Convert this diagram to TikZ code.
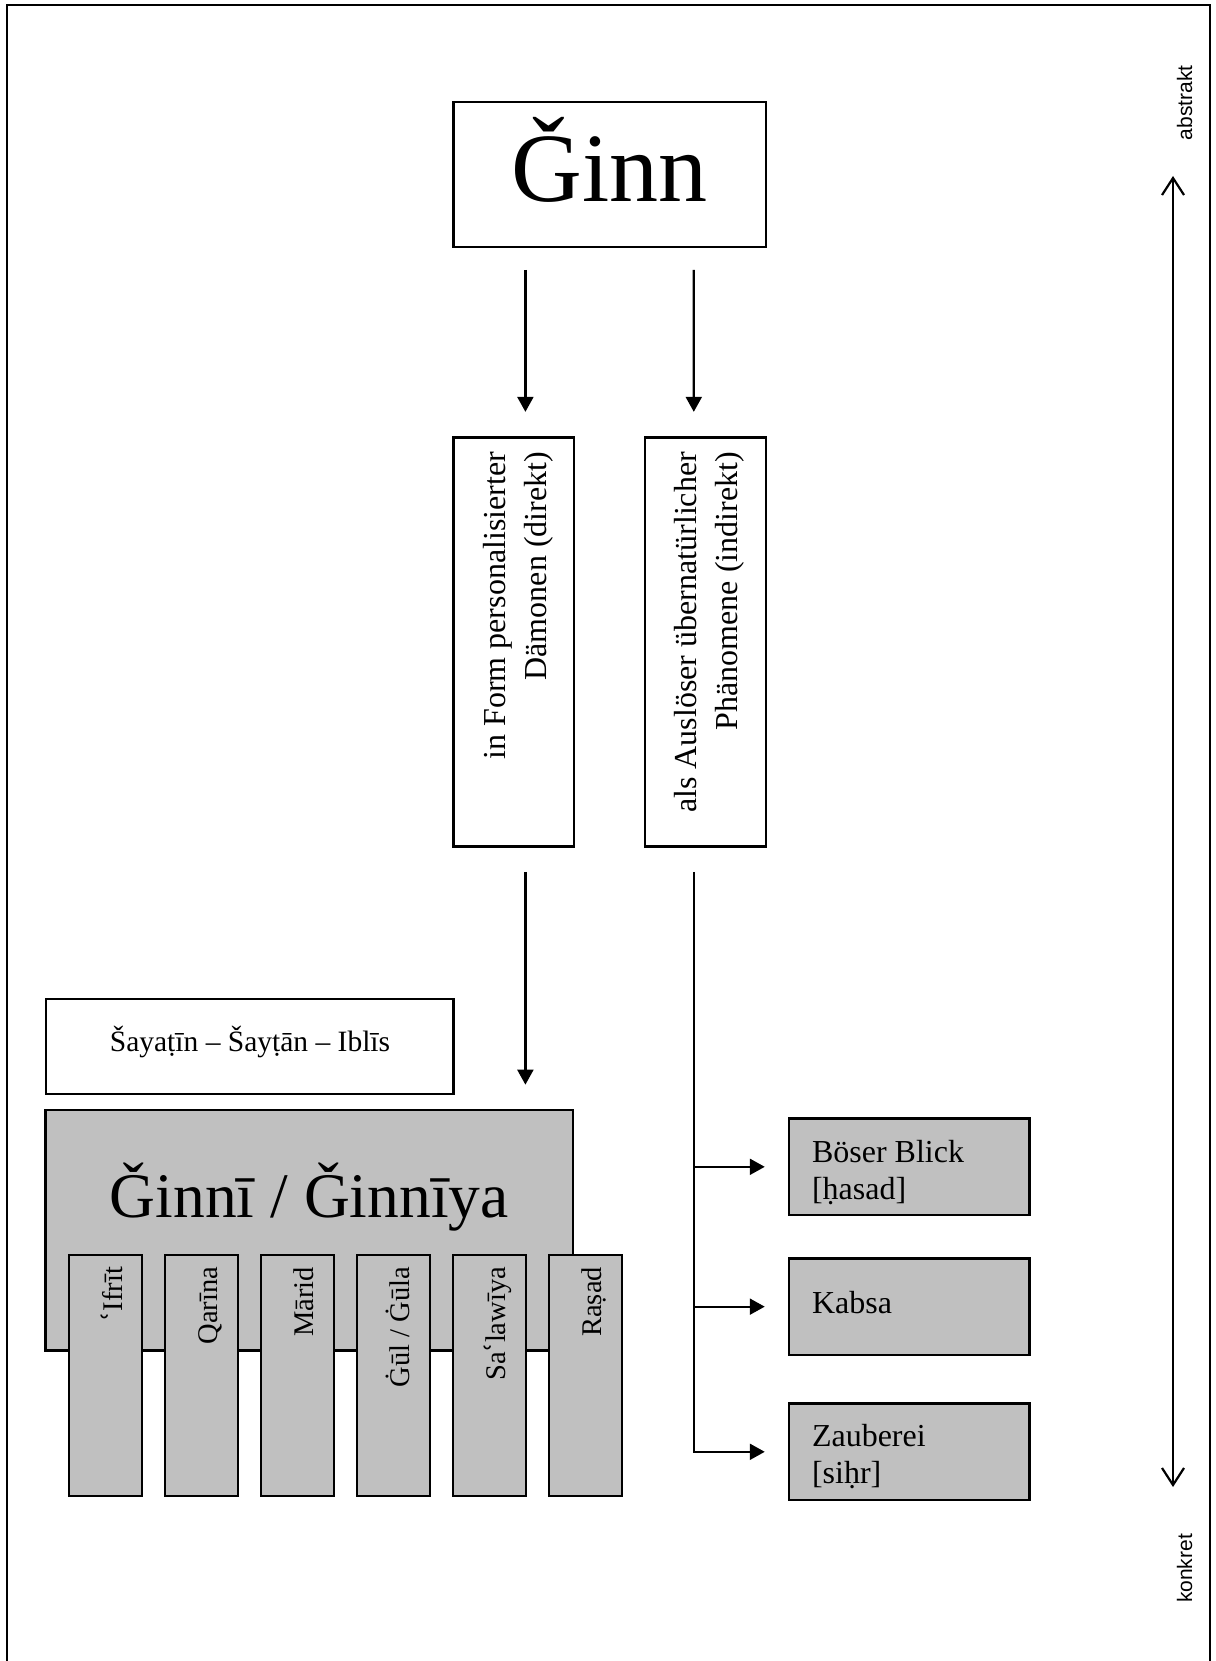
\documentclass[tikz,border=0pt]{standalone}
\usepackage{fontspec}
\setmainfont{Liberation Serif}
\newfontfamily\axisfont{Liberation Sans}
\newfontfamily\ringfont{DejaVu Serif}
\newcommand{\ayn}{{\ringfont ʿ}}
\usetikzlibrary{arrows.meta}
\definecolor{boxgray}{RGB}{192,192,192}
\begin{document}
\begin{tikzpicture}[x=1pt,y=-1pt,
  wbox/.style={draw, line width=2.3pt, fill=white, inner sep=0pt, rectangle},
  gbox/.style={draw, line width=2.3pt, fill=boxgray, inner sep=0pt, rectangle},
  arr/.style={line width=2.2pt, -{Triangle[length=15pt,width=16pt]}},
  txt/.style={inner sep=0pt, outer sep=0pt},
  small/.style={txt, rotate=90, anchor=base east, font=\fontsize{28.5}{33}\selectfont},
  midtxt/.style={txt, rotate=90, anchor=east, align=right, font=\fontsize{32}{41}\selectfont},
  righttxt/.style={txt, anchor=base west, align=left, font=\fontsize{32}{37}\selectfont},
  axistxt/.style={txt, rotate=90, anchor=base, font=\axisfont\fontsize{21}{25}\selectfont}]
\useasboundingbox (0,0) rectangle (1215,1661);
\fill[white] (0,0) rectangle (1215,1661);
\draw[line width=2.3pt] (7,1661) -- (7,5) -- (1210,5) -- (1210,1661);

% top box
\node[wbox, minimum width=312.5pt, minimum height=145.1pt] (ginn) at (609.65,174.25) {};
\node[txt, anchor=base, font=\fontsize{98}{110}\selectfont] (ginnT) at (609.65,202) {Ǧinn};

% middle boxes
\node[wbox, minimum width=120.7pt, minimum height=408.9pt] (m1) at (513.75,641.95) {};
\node[wbox, minimum width=120.8pt, minimum height=408.9pt] (m2) at (705.5,641.95) {};
\node[midtxt] (m1T) at (518,452) {in Form personalisierter\\Dämonen (direkt)};
\node[midtxt] (m2T) at (709.5,452) {als Auslöser übernatürlicher\\Phänomene (indirekt)};

\draw[arr] ([xshift=-84.25pt,yshift=-22pt]ginn.south) -- ([xshift=11.65pt,yshift=24.5pt]m1.north);
\draw[arr] ([xshift=84.15pt,yshift=-22pt]ginn.south) -- ([xshift=-11.7pt,yshift=24.5pt]m2.north);

% left lower boxes
\node[wbox, minimum width=407.4pt, minimum height=95.3pt] (say) at (249.7,1046.65) {};
\node[txt, anchor=base, font=\fontsize{29.5}{34}\selectfont] (sayT) at (250,1051) {Šayaṭīn – Šayṭān – Iblīs};

\node[gbox, minimum width=527.5pt, minimum height=240.6pt] (ginni) at (309.25,1230.3) {};
\node[txt, anchor=base, font=\fontsize{63.5}{70}\selectfont] (ginniT) at (309.25,1217) {Ǧinnī / Ǧinnīya};

\coordinate (d1) at ([xshift=11.65pt,yshift=-24.3pt]m1.south);
\draw[arr] (d1) -- ([yshift=24.2pt]ginni.north -| d1);

\foreach \n/\cx/\t in {1/105.5/{\ayn Ifrīt}, 2/201.45/{Qarīna}, 3/297.4/{Mārid}, 4/393.35/{Ġūl / Ġūla}, 5/489.3/{Sa\ayn lawīya}, 6/585.25/{Raṣad}}{
  \node[gbox, minimum width=73pt, minimum height=240.4pt] (s\n) at (\cx,1375.5) {};
  \node[small] (s\n T) at (\cx+16.5,1267) {\t};
}

% right boxes
\node[gbox, minimum width=240.4pt, minimum height=96.4pt] (b1) at (909.4,1166.8) {};
\node[gbox, minimum width=240.4pt, minimum height=96.3pt] (b2) at (909.4,1306.65) {};
\node[gbox, minimum width=240.4pt, minimum height=96.4pt] (b3) at (909.4,1451.8) {};
\node[righttxt] (b1T) at (812,1199) {Böser Blick\\{[}ḥasad{]}};
\node[righttxt] (b2T) at (812,1313.5) {Kabsa};
\node[righttxt] (b3T) at (812,1483) {Zauberei\\{[}siḥr{]}};

\coordinate (trunk) at ([xshift=-11.7pt,yshift=-24.3pt]m2.south);
\draw[arr] (trunk) |- ([xshift=-23.3pt]b3.west);
\draw[arr] (b1.west -| trunk) -- ([xshift=-23.3pt]b1.west);
\draw[arr] (b2.west -| trunk) -- ([xshift=-23.3pt]b2.west);

% axis
\coordinate (axTop) at (1173,176);
\coordinate (axBot) at (1173,1487);
\draw[line width=2.2pt, {Straight Barb[length=17pt,width=22pt]}-{Straight Barb[length=17pt,width=22pt]}] (axTop) -- (axBot);
\node[axistxt] (abs) at (1192,103) {abstrakt};
\node[axistxt] (kon) at (1192,1568.5) {konkret};
\end{tikzpicture}
\end{document}
